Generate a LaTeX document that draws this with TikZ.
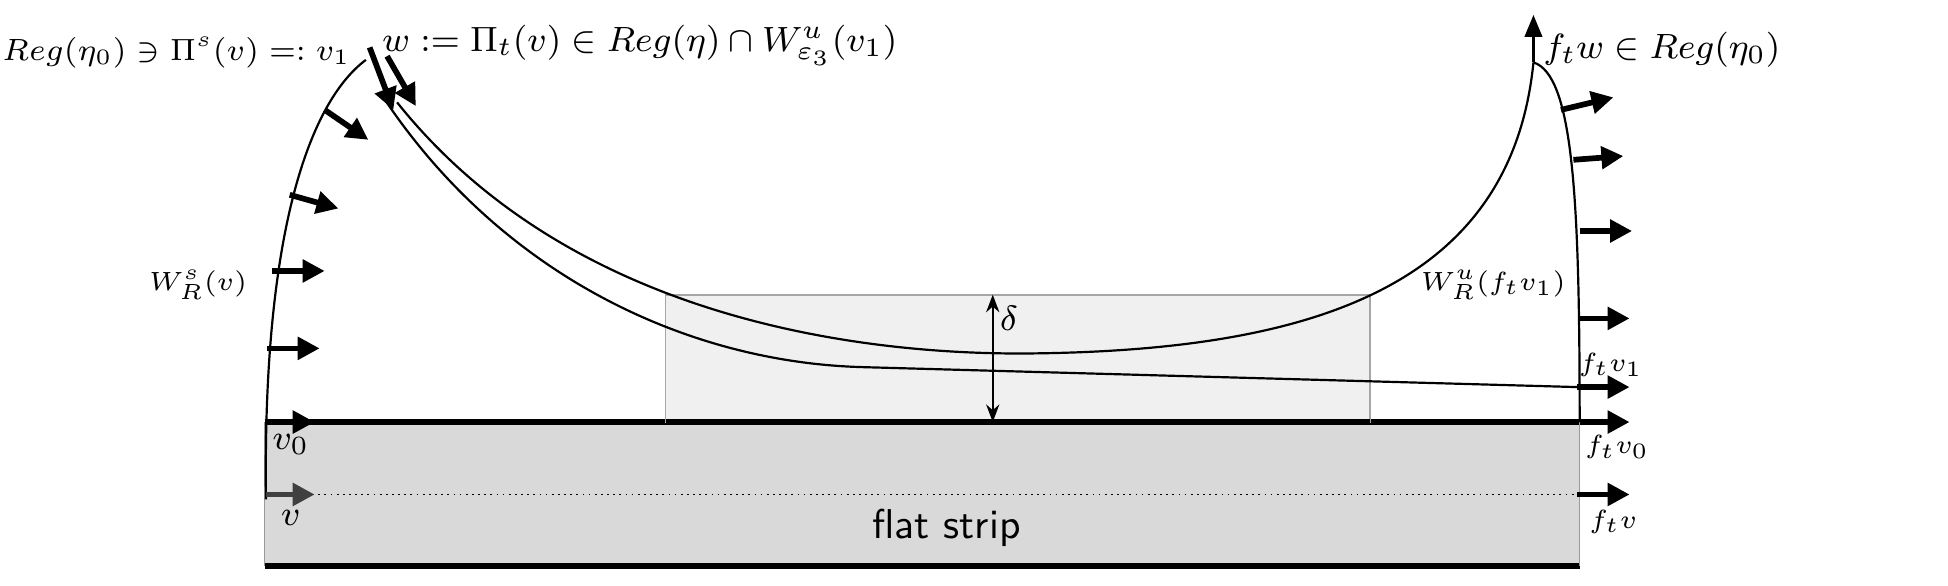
\documentclass[tikz,border=0pt]{standalone}
\usepackage{amssymb}
\usetikzlibrary{arrows.meta}
\definecolor{stripgray}{HTML}{D9D9D9}
\definecolor{boxgray}{HTML}{F0F0F0}
\tikzset{
  vec/.style={line width=1.3pt, -{Triangle[length=5pt,width=5pt]}},
  leaf/.style={line width=0.5pt},
  lbl/.style={inner sep=1pt, font=\fontsize{6}{7}\selectfont},
  biglbl/.style={inner sep=1pt, font=\fontsize{8.5}{10}\selectfont}
}
\begin{document}
\begin{tikzpicture}[x=1cm,y=-1cm,yshift=4.69cm]
  \useasboundingbox (0,0) rectangle (15.6,4.69);
  % strip and box
  \fill[stripgray] (2.12,3.38) rectangle (12.65,4.53);
  \draw[line width=1.3pt] (2.12,3.38) -- (12.65,3.38);
  \draw[line width=1.3pt] (2.12,4.53) -- (12.65,4.53);
  \draw[gray!80, line width=0.3pt] (2.12,3.38) -- (2.12,4.53) (12.65,3.38) -- (12.65,4.53);
  \draw[fill=boxgray, draw=gray!70, line width=0.4pt] (5.33,2.36) rectangle (10.97,3.38);
  \draw[line width=1.3pt] (5.33,3.38) -- (10.97,3.38);
  \draw[densely dotted, line width=0.4pt] (2.5,3.96) -- (12.63,3.96);
  % coordinates
  \coordinate (bot) at (2.13,4.0);
  \coordinate (peak) at (2.93,0.48);
  \coordinate (top) at (12.28,0.5);
  \coordinate (ftv1) at (12.63,3.10);
  \coordinate (ftv0) at (12.65,3.38);
  % delta
  \coordinate (d1) at (7.95,2.36);
  \coordinate (d2) at (7.95,3.38);
  \draw[{Stealth[length=4pt]}-{Stealth[length=4pt]}, line width=0.5pt] (d1) -- (d2);
  \node[lbl, font=\fontsize{8}{9}\selectfont\itshape] (delta) at (8.08,2.55) {$\delta$};
  % stable leaf
  \draw[leaf] (bot) .. controls (2.1,1.8) and (2.5,0.8) .. (peak);
  % two unstable curves
  \draw[leaf] (3.05,0.75) .. controls (4.0,2.2) and (5.5,2.9) .. (6.9,2.94) -- (ftv1);
  \draw[leaf] (3.18,0.82) .. controls (4.6,2.6) and (7.0,2.85) .. (8.3,2.83)
    .. controls (10.5,2.8) and (12.1,2.3) .. (top);
  \draw[leaf, -{Triangle[length=5pt,width=4pt]}] (top) -- (12.28,0.12);
  % right leaf
  \draw[leaf] (top) .. controls (12.6,0.6) and (12.65,1.6) .. (ftv0);
  % vectors left
  \draw[vec] (2.60,0.88) -- (2.95,1.12);
  \draw[vec] (2.32,1.56) -- (2.71,1.67);
  \draw[vec] (2.18,2.17) -- (2.60,2.17);
  \draw[vec] (2.14,2.79) -- (2.56,2.79);
  \draw[vec] (2.12,3.38) -- (2.52,3.38);
  \draw[vec, black!75] (2.13,3.96) -- (2.52,3.96);
  \draw[vec] (2.96,0.38) -- (3.15,0.88);
  \draw[vec] (3.10,0.45) -- (3.33,0.85);
  % vectors right
  \draw[vec] (12.50,0.88) -- (12.92,0.78);
  \draw[vec] (12.60,1.28) -- (13.00,1.25);
  \draw[vec] (12.65,1.85) -- (13.07,1.85);
  \draw[vec] (12.65,2.55) -- (13.05,2.55);
  \draw[vec] (ftv1) -- (13.05,3.10);
  \draw[vec] (ftv0) -- (13.05,3.38);
  \draw[vec] (12.63,3.96) -- (13.05,3.96);
  % labels
  \node[lbl, anchor=east, font=\fontsize{7}{8}\selectfont] (regv1) at (2.85,0.42) {$Reg(\eta_0)\ni\Pi^s(v)=:v_1$};
  \node[biglbl, anchor=west] (wdef) at (3.02,0.36) {$w:=\Pi_t(v)\in Reg(\eta)\cap W^u_{\varepsilon_3}(v_1)$};
  \node[biglbl, anchor=west] (ftw) at (12.32,0.40) {$f_tw\in Reg(\eta_0)$};
  \node[lbl, anchor=east] (Ws) at (2.02,2.28) {$W^s_R(v)$};
  \node[lbl, anchor=east] (Wu) at (12.58,2.28) {$W^u_R(f_tv_1)$};
  \node[lbl] (lftv1) at (12.90,2.92) {$f_tv_1$};
  \node[biglbl] (lv0) at (2.33,3.56) {$v_0$};
  \node[lbl] (lftv0) at (12.95,3.58) {$f_tv_0$};
  \node[biglbl] (lv) at (2.33,4.15) {$v$};
  \node[lbl] (lftv) at (12.92,4.18) {$f_tv$};
  \node[inner sep=1pt, font=\fontsize{9.5}{11}\selectfont\sffamily] (flat) at (7.58,4.23) {flat strip};
\end{tikzpicture}
\end{document}
